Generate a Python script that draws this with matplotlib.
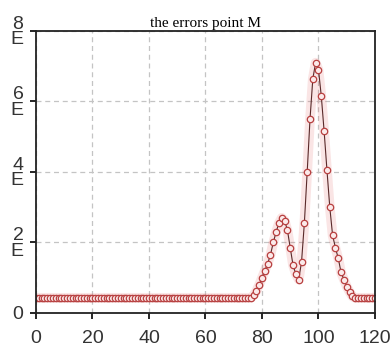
import numpy as np
import matplotlib.pyplot as plt
from matplotlib.transforms import ScaledTranslation

# error values, one per step
x_vals = np.arange(0, 121)
base = 0.43
hump = [0.5, 0.62, 0.8, 1.0, 1.2, 1.4, 1.65, 2.0, 2.3, 2.55, 2.7, 2.62, 2.35,
        1.85, 1.35, 1.1, 0.95, 1.45, 2.55, 4.0, 5.5, 6.65, 7.1, 6.9, 6.15,
        5.15, 4.05, 3.0, 2.2, 1.85, 1.55, 1.15, 0.95, 0.75, 0.6, 0.47]
err_vals = [base] * 77 + hump + [base] * (121 - 77 - len(hump))

x_ticks = [0, 20, 40, 60, 80, 100, 120]
y_ticks = [0, 2, 4, 6, 8]
y_labels = ['0', '2\nE', '4\nE', '6\nE', '8\nE']

fig = plt.figure(figsize=(3.9, 3.52), dpi=100)
ax = fig.add_axes([0.0923, 0.1108, 0.8692, 0.8012])

# soft red glow under the line
ax.plot(x_vals, err_vals, color='#e06060', lw=7, alpha=0.16, solid_capstyle='round')
ax.plot(x_vals, err_vals, color='#5a2a2a', lw=0.8,
        marker='o', markersize=4.6, markerfacecolor='#fbeaea',
        markeredgecolor='#b84040', markeredgewidth=0.9)

ax.set_xlim(0, 120)
ax.set_ylim(0, 8)
ax.set_xticks(x_ticks)
ax.set_yticks(y_ticks)
ax.set_yticklabels(y_labels, linespacing=0.85)
for lab in ax.get_xticklabels() + ax.get_yticklabels():
    lab.set_fontfamily('Liberation Sans')
    lab.set_fontsize(14)
    lab.set_color('#333333')
# lift the two-line y labels a little so the digit sits above the tick
shift = ScaledTranslation(0, 4 / 72, fig.dpi_scale_trans)
for lab in ax.get_yticklabels()[1:]:
    lab.set_transform(lab.get_transform() + shift)
ax.tick_params(axis='x', direction='out', length=4, width=1.2, pad=8)
ax.tick_params(axis='y', direction='out', length=4, width=1.2, pad=5)
ax.grid(True, color='#c4c4c4', linestyle=(0, (4, 3)), linewidth=0.9)
for s in ax.spines.values():
    s.set_linewidth(1.3)
    s.set_color('#222222')

ax.set_title('the errors point M', fontfamily='Liberation Serif', fontsize=11, pad=3)

plt.savefig('out.png', dpi=100)
